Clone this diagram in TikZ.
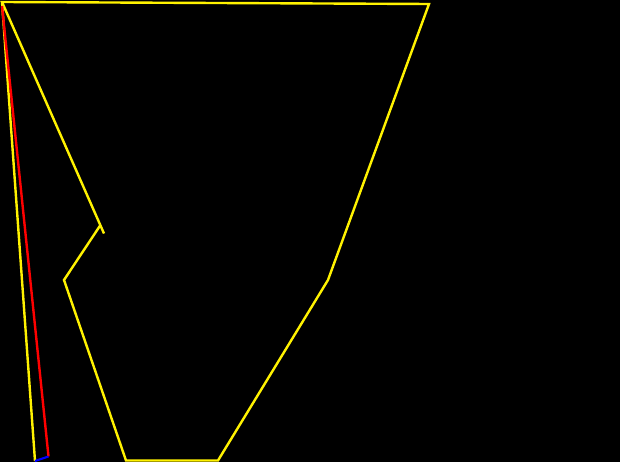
\documentclass[tikz,border=0pt]{standalone}
\begin{document}
\begin{tikzpicture}[x=1pt,y=-1pt,
  yl/.style={draw=yellow,line width=2.4pt,line join=miter},
  rd/.style={draw=red,line width=2.4pt},
  bl/.style={draw=blue,line width=2.2pt}]
\fill[black] (0,0) rectangle (620,462);
\useasboundingbox (0,0) rectangle (620,462);
\coordinate (A) at (2,2);
\coordinate (B) at (429,4);
\coordinate (C) at (328,280);
\coordinate (D) at (218,460.5);
\coordinate (E) at (126,460.5);
\coordinate (F) at (64,280);
\coordinate (G) at (100.5,225);
\coordinate (H) at (104,233.5);
\coordinate (L) at (35,461);
\coordinate (R1) at (2,6);
\coordinate (R2) at (48.5,456.5);
\path[yl] (G) -- (F) -- (E) -- (D) -- (C) -- (B) -- (A) -- (H);
\path[yl] (A) -- (L);
\path[rd] (R1) -- (R2);
\path[bl] (L) -- (R2);
\end{tikzpicture}
\end{document}
